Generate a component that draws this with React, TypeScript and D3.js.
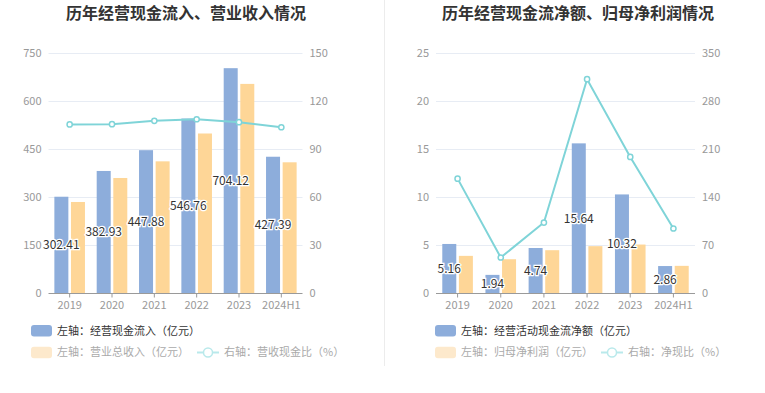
import React from "react";
import * as d3 from "d3";

const categories = ["2019", "2020", "2021", "2022", "2023", "2024H1"];

// Left panel
const cashInflow = [302.41, 382.93, 447.88, 546.76, 704.12, 427.39];
const revenue = [286, 361, 413, 500, 655, 410];
const cashRevenueRatio = [105.7, 105.8, 107.9, 108.9, 107.1, 103.9];
const leftTicksL = [0, 150, 300, 450, 600, 750];
const leftTicksR = [0, 30, 60, 90, 120, 150];

// Right panel
const netCashFlow = [5.16, 1.94, 4.74, 15.64, 10.32, 2.86];
const netProfit = [3.92, 3.57, 4.51, 4.93, 5.1, 2.88];
const netCashRatio = [167.5, 52.5, 103.5, 312.5, 199.2, 94.8];
const rightTicksL = [0, 5, 10, 15, 20, 25];
const rightTicksR = [0, 70, 140, 210, 280, 350];

const BLUE = "#8daddb";
const ORANGE = "#fed697";
const TEAL = "#7fd4d8";
const FONT = "'Noto Sans CJK SC', 'Noto Sans', sans-serif";

type PanelProps = {
  title: string;
  titleX: number;
  x0: number;
  x1: number;
  bars1: number[];
  bars2: number[];
  line: number[];
  ticksL: number[];
  ticksR: number[];
  legend1: string;
  legend2: string;
  legend3: string;
  legendX: number;
  lineLegendX: number;
};

function Panel(p: PanelProps) {
  const top = 53.5;
  const bottom = 293.5;
  const x = d3.scaleBand<string>().domain(categories).range([p.x0, p.x1]).padding(0);
  const yL = d3.scaleLinear().domain([0, p.ticksL[p.ticksL.length - 1]]).range([bottom, top]);
  const yR = d3.scaleLinear().domain([0, p.ticksR[p.ticksR.length - 1]]).range([bottom, top]);
  const bw = 14;
  const cx = (c: string) => (x(c) as number) + x.bandwidth() / 2;
  const lineGen = d3
    .line<number>()
    .x((_, i) => cx(categories[i]))
    .y((d) => yR(d));

  return (
    <g>
      <text
        x={p.titleX}
        y={19}
        textAnchor="middle"
        fontFamily={FONT}
        fontSize={16}
        fontWeight="bold"
        fill="#333"
      >
        {p.title}
      </text>
      {p.ticksL.map((t, i) => (
        <g key={"g" + i}>
          {i > 0 && (
            <line x1={p.x0} x2={p.x1} y1={yL(t)} y2={yL(t)} stroke="#e7ecf4" strokeWidth={1} />
          )}
          <text
            x={p.x0 - 7}
            y={yL(t)}
            dy="0.35em"
            textAnchor="end"
            fontFamily={FONT}
            fontSize={11}
            fill="#999"
          >
            {t}
          </text>
          <text
            x={p.x1 + 7}
            y={yR(p.ticksR[i])}
            dy="0.35em"
            textAnchor="start"
            fontFamily={FONT}
            fontSize={11}
            fill="#999"
          >
            {p.ticksR[i]}
          </text>
        </g>
      ))}
      {categories.map((c, i) => (
        <g key={"b" + c}>
          <rect x={cx(c) - 15.3} y={yL(p.bars1[i])} width={bw} height={bottom - yL(p.bars1[i])} fill={BLUE} />
          <rect x={cx(c) + 1.3} y={yL(p.bars2[i])} width={bw} height={bottom - yL(p.bars2[i])} fill={ORANGE} />
        </g>
      ))}
      <line x1={p.x0} x2={p.x1} y1={bottom} y2={bottom} stroke="#9a9a9a" strokeWidth={1} />
      {categories.map((c) => (
        <g key={"t" + c}>
          <line x1={cx(c)} x2={cx(c)} y1={bottom} y2={bottom + 4} stroke="#9a9a9a" />
          <text
            x={cx(c)}
            y={bottom + 15.5}
            textAnchor="middle"
            fontFamily={FONT}
            fontSize={11}
            fill="#999"
          >
            {c}
          </text>
        </g>
      ))}
      <path d={lineGen(p.line) || ""} fill="none" stroke={TEAL} strokeWidth={2} />
      {p.line.map((v, i) => (
        <circle key={"m" + i} cx={cx(categories[i])} cy={yR(v)} r={2.6} fill="#fff" stroke={TEAL} strokeWidth={1.5} />
      ))}
      {categories.map((c, i) => (
        <text
          key={"l" + c}
          x={cx(c) - 8.3}
          y={(bottom + yL(p.bars1[i])) / 2}
          dy="0.35em"
          textAnchor="middle"
          fontFamily={FONT}
          fontSize={12}
          fill="#333"
          stroke="#fff"
          strokeWidth={2.5}
          paintOrder="stroke"
        >
          {p.bars1[i]}
        </text>
      ))}
      {/* legend */}
      <rect x={p.legendX} y={325} width={21} height={11.5} rx={3} fill={BLUE} />
      <text x={p.legendX + 26} y={330.7} dy="0.35em" fontFamily={FONT} fontSize={11} fill="#333">
        {p.legend1}
      </text>
      <rect x={p.legendX} y={346.7} width={21} height={11.5} rx={3} fill="#fde9cc" />
      <text x={p.legendX + 26} y={352.5} dy="0.35em" fontFamily={FONT} fontSize={11} fill="#aaa">
        {p.legend2}
      </text>
      <line x1={p.lineLegendX} x2={p.lineLegendX + 22} y1={352.5} y2={352.5} stroke="#b9e9eb" strokeWidth={2} />
      <circle cx={p.lineLegendX + 11} cy={352.5} r={4.5} fill="#fff" stroke="#b9e9eb" strokeWidth={1.5} />
      <text x={p.lineLegendX + 27} y={352.5} dy="0.35em" fontFamily={FONT} fontSize={11} fill="#aaa">
        {p.legend3}
      </text>
    </g>
  );
}

export default function App() {
  return (
    <svg
      width={765}
      height={393}
      style={{ position: "absolute", left: 0, top: 0, background: "#fff" }}
    >
      <rect width={765} height={393} fill="#fff" />
      <line x1={384.5} x2={384.5} y1={0} y2={366} stroke="#ececec" strokeWidth={1} />
      <Panel
        title="历年经营现金流入、营业收入情况"
        titleX={186}
        x0={48.5}
        x1={302.5}
        bars1={cashInflow}
        bars2={revenue}
        line={cashRevenueRatio}
        ticksL={leftTicksL}
        ticksR={leftTicksR}
        legend1="左轴：经营现金流入（亿元）"
        legend2="左轴：营业总收入（亿元）"
        legend3="右轴：营收现金比（%）"
        legendX={31}
        lineLegendX={197}
      />
      <Panel
        title="历年经营现金流净额、归母净利润情况"
        titleX={578}
        x0={436}
        x1={695}
        bars1={netCashFlow}
        bars2={netProfit}
        line={netCashRatio}
        ticksL={rightTicksL}
        ticksR={rightTicksR}
        legend1="左轴：经营活动现金流净额（亿元）"
        legend2="左轴：归母净利润（亿元）"
        legend3="右轴：净现比（%）"
        legendX={435}
        lineLegendX={601}
      />
    </svg>
  );
}
